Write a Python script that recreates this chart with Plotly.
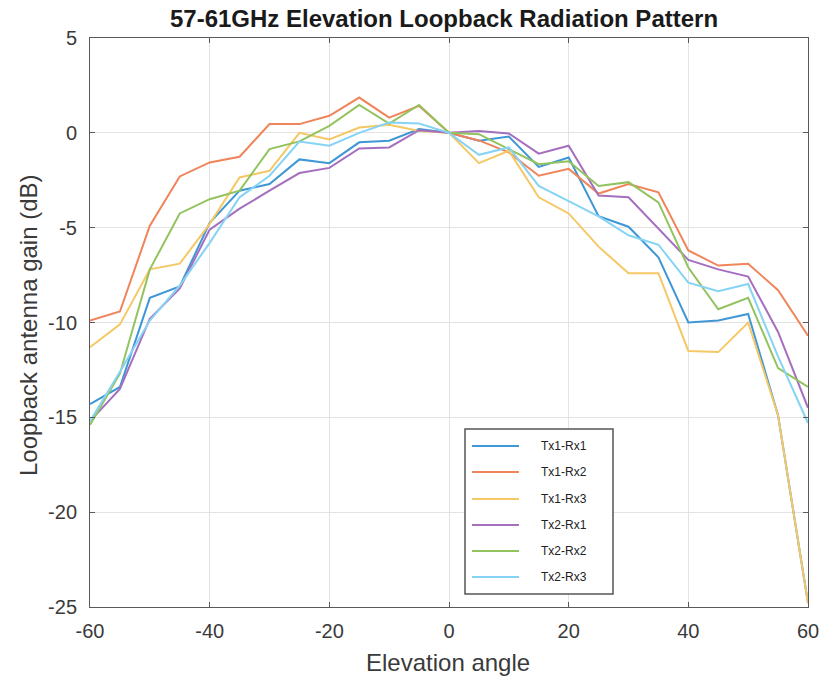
import plotly.graph_objects as go

angles = list(range(-60, 61, 5))

tx1_rx1 = [-14.3, -13.4, -8.7, -8.1, -4.75, -3.05, -2.7, -1.4, -1.6, -0.5, -0.42, 0.2, 0.0,
           -0.42, -0.2, -1.8, -1.3, -4.4, -4.95, -6.56, -10.0, -9.9, -9.55, -14.9, -24.8]
tx1_rx2 = [-9.9, -9.42, -4.9, -2.3, -1.56, -1.26, 0.46, 0.46, 0.9, 1.86, 0.8, 1.42, 0.0,
           -0.4, -1.03, -2.26, -1.9, -3.2, -2.7, -3.14, -6.2, -7.0, -6.9, -8.3, -10.7]
tx1_rx3 = [-11.3, -10.1, -7.2, -6.9, -4.8, -2.35, -2.0, 0.0, -0.35, 0.28, 0.42, 0.1, 0.0,
           -1.6, -0.95, -3.4, -4.25, -6.0, -7.4, -7.4, -11.5, -11.56, -10.0, -14.9, -24.8]
tx2_rx1 = [-15.2, -13.5, -9.8, -8.2, -5.1, -4.0, -3.05, -2.12, -1.85, -0.82, -0.77, 0.14, 0.0,
           0.1, -0.03, -1.1, -0.68, -3.3, -3.4, -5.07, -6.7, -7.2, -7.58, -10.5, -14.5]
tx2_rx2 = [-15.4, -12.7, -7.2, -4.25, -3.5, -3.05, -0.86, -0.45, 0.37, 1.47, 0.49, 1.47, 0.0,
           -0.07, -0.86, -1.65, -1.5, -2.8, -2.6, -3.67, -7.1, -9.3, -8.7, -12.4, -13.4]
tx2_rx3 = [-15.2, -12.6, -9.9, -8.05, -5.8, -3.4, -2.26, -0.46, -0.68, 0.0, 0.54, 0.49, 0.0,
           -1.16, -0.77, -2.8, -3.6, -4.4, -5.4, -5.9, -7.9, -8.35, -7.97, -11.8, -15.3]

x_ticks = [-60, -40, -20, 0, 20, 40, 60]
x_tick_labels = ["-60", "-40", "-20", "0", "20", "40", "60"]
y_ticks = [-25, -20, -15, -10, -5, 0, 5]
y_tick_labels = ["-25", "-20", "-15", "-10", "-5", "0", "5"]

series_names = ["Tx1-Rx1", "Tx1-Rx2", "Tx1-Rx3", "Tx2-Rx1", "Tx2-Rx2", "Tx2-Rx3"]
series_values = [tx1_rx1, tx1_rx2, tx1_rx3, tx2_rx1, tx2_rx2, tx2_rx3]
series_colors = ["#3f97d6", "#f0845a", "#f5c865", "#a56fbf", "#93c35e", "#86d3f5"]

font_fam = "Liberation Sans, Arial"

# plot area in screen pixels
PL, PR, PT, PB = 90, 808, 38, 607


def px(X):
    return (X - PL) / (PR - PL)


def py(Y):
    return (PB - Y) / (PB - PT)


fig = go.Figure()
for name, vals, col in zip(series_names, series_values, series_colors):
    fig.add_trace(go.Scatter(x=angles, y=vals, mode="lines", name=name,
                             line=dict(color=col, width=2), showlegend=False))

axis_common = dict(showline=True, linecolor="#5a5a5a", linewidth=1, mirror="ticks",
                   ticks="inside", ticklen=5, tickcolor="#5a5a5a", automargin=False,
                   showgrid=True, gridcolor="#e3e3e3", gridwidth=1, zeroline=False,
                   tickfont=dict(family=font_fam, size=20, color="#3a3a3a"))

shapes = [dict(type="rect", xref="paper", yref="paper",
               x0=px(465), x1=px(613), y0=py(594), y1=py(429),
               line=dict(color="#555555", width=1.5), fillcolor="white", layer="above")]
annotations = []
item_y = [446, 472, 499, 525, 551, 577]
for name, col, Y in zip(series_names, series_colors, item_y):
    shapes.append(dict(type="line", xref="paper", yref="paper",
                       x0=px(472), x1=px(519), y0=py(Y), y1=py(Y),
                       line=dict(color=col, width=2), layer="above"))
    annotations.append(dict(xref="paper", yref="paper", x=px(539), y=py(Y),
                            xanchor="left", yanchor="middle", showarrow=False,
                            text=name, font=dict(family=font_fam, size=12, color="#222")))

annotations.append(dict(xref="paper", yref="paper", x=px(448), y=py(662),
                        xanchor="center", yanchor="middle", showarrow=False,
                        text="Elevation angle",
                        font=dict(family=font_fam, size=24, color="#3a3a3a")))
annotations.append(dict(xref="paper", yref="paper", x=px(28), y=py(325),
                        xanchor="center", yanchor="middle", showarrow=False, textangle=-90,
                        text="Loopback antenna gain (dB)",
                        font=dict(family=font_fam, size=24, color="#3a3a3a")))

fig.update_layout(
    width=820, height=681,
    margin=dict(l=PL, r=820 - PR, t=PT, b=681 - PB),
    paper_bgcolor="white", plot_bgcolor="white",
    title=dict(text="<b>57-61GHz Elevation Loopback Radiation Pattern</b>",
               x=444 / 820, xanchor="center", y=1 - 19 / 681, yanchor="middle",
               font=dict(family=font_fam, size=24, color="#1a1a1a")),
    xaxis=dict(range=[-60, 60], tickvals=x_ticks, ticktext=x_tick_labels,
               ticklabelstandoff=6, **axis_common),
    yaxis=dict(range=[-25, 5], tickvals=y_ticks, ticktext=y_tick_labels,
               ticklabelstandoff=8, **axis_common),
    shapes=shapes,
    annotations=annotations,
    showlegend=False,
)

fig.write_html(
    "out.html",
    config={"displayModeBar": False},
    post_script="document.body.style.margin='0';document.body.style.overflow='hidden';",
)
